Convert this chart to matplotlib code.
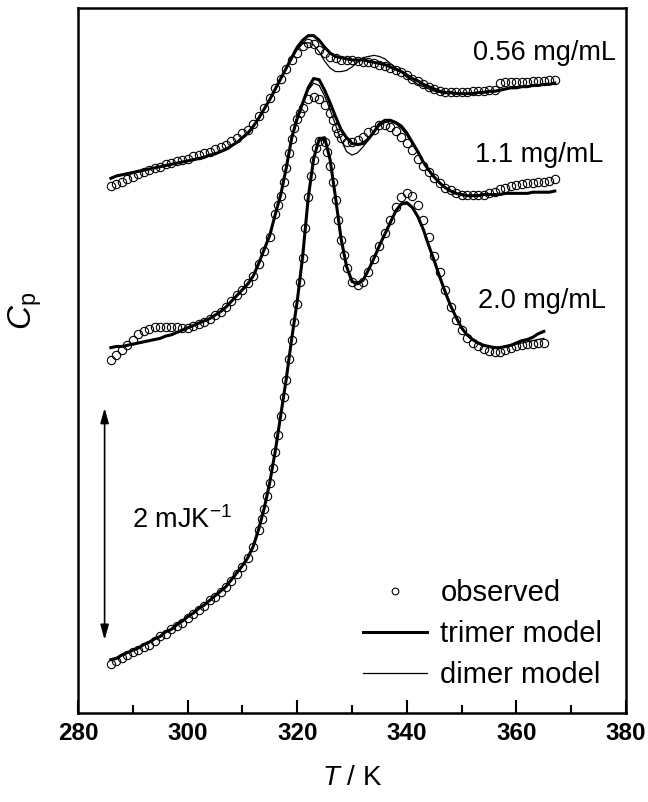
import numpy as np
import matplotlib
matplotlib.use("Agg")
import matplotlib.pyplot as plt

plt.rcParams["font.family"] = ["Liberation Sans", "DejaVu Sans"]
plt.rcParams["mathtext.fontset"] = "custom"
plt.rcParams["mathtext.rm"] = "Liberation Sans"
plt.rcParams["mathtext.it"] = "Liberation Sans:italic"

# excess heat capacity traces (mJ/K, stacked), one per protein concentration
T_056 = np.arange(286, 368)
obs_056 = [4.54, 4.56, 4.58, 4.60, 4.62, 4.65, 4.66, 4.68, 4.70, 4.71,
           4.73, 4.74, 4.76, 4.77, 4.78, 4.80, 4.81, 4.83, 4.84, 4.86,
           4.88, 4.90, 4.93, 4.96, 5.00, 5.03, 5.08, 5.15, 5.22, 5.30,
           5.39, 5.47, 5.55, 5.63, 5.69, 5.75, 5.78, 5.77, 5.72, 5.69,
           5.66, 5.65, 5.63, 5.63, 5.63, 5.62, 5.61, 5.61, 5.60, 5.59,
           5.58, 5.56, 5.54, 5.53, 5.50, 5.47, 5.45, 5.42, 5.40, 5.38,
           5.36, 5.35, 5.35, 5.35, 5.35, 5.35, 5.36, 5.36, 5.36, 5.37,
           5.37, 5.43, 5.44, 5.44, 5.44, 5.44, 5.44, 5.45, 5.45, 5.45,
           5.46, 5.46]
tri_056 = [4.61, 4.63, 4.64, 4.65, 4.66, 4.67, 4.68, 4.69, 4.70, 4.71,
           4.72, 4.73, 4.74, 4.75, 4.76, 4.77, 4.78, 4.79, 4.81, 4.82,
           4.84, 4.86, 4.89, 4.92, 4.96, 5.00, 5.06, 5.13, 5.21, 5.29,
           5.38, 5.47, 5.56, 5.65, 5.74, 5.80, 5.84, 5.84, 5.80, 5.74,
           5.69, 5.66, 5.65, 5.64, 5.63, 5.63, 5.63, 5.62, 5.61, 5.60,
           5.59, 5.57, 5.55, 5.53, 5.50, 5.47, 5.45, 5.42, 5.40, 5.38,
           5.36, 5.35, 5.35, 5.34, 5.34, 5.34, 5.34, 5.35, 5.35, 5.36,
           5.36, 5.37, 5.38, 5.39, 5.39, 5.40, 5.40, 5.41, 5.41, 5.42,
           5.42, 5.43]
dim_056 = [4.61, 4.63, 4.64, 4.65, 4.66, 4.67, 4.68, 4.69, 4.70, 4.71,
           4.72, 4.73, 4.74, 4.75, 4.76, 4.77, 4.78, 4.79, 4.81, 4.82,
           4.84, 4.86, 4.89, 4.92, 4.96, 5.00, 5.06, 5.13, 5.21, 5.29,
           5.38, 5.47, 5.56, 5.64, 5.72, 5.77, 5.78, 5.76, 5.70, 5.62,
           5.56, 5.53, 5.53, 5.54, 5.57, 5.61, 5.65, 5.66, 5.67, 5.66,
           5.64, 5.60, 5.56, 5.53, 5.48, 5.45, 5.42, 5.40, 5.38, 5.36,
           5.35, 5.34, 5.34, 5.34, 5.34, 5.34, 5.34, 5.35, 5.35, 5.36,
           5.36, 5.37, 5.38, 5.39, 5.39, 5.40, 5.40, 5.41, 5.41, 5.42,
           5.42, 5.43]

T_11 = np.arange(286, 368)
obs_11 = [3.04, 3.09, 3.13, 3.17, 3.22, 3.27, 3.29, 3.31, 3.33, 3.33,
          3.33, 3.33, 3.33, 3.32, 3.32, 3.34, 3.35, 3.37, 3.40, 3.43,
          3.46, 3.50, 3.55, 3.60, 3.65, 3.71, 3.77, 3.87, 3.98, 4.10,
          4.30, 4.46, 4.70, 4.95, 5.12, 5.22, 5.29, 5.31, 5.29, 5.24,
          5.17, 5.04, 4.96, 4.92, 4.92, 4.94, 4.97, 5.01, 5.03, 5.07,
          5.07, 5.05, 5.02, 4.97, 4.91, 4.85, 4.78, 4.72, 4.66, 4.61,
          4.57, 4.53, 4.51, 4.48, 4.47, 4.47, 4.47, 4.47, 4.47, 4.48,
          4.49, 4.52, 4.53, 4.54, 4.55, 4.56, 4.57, 4.57, 4.58, 4.58,
          4.59, 4.60]
tri_11 = [3.15, 3.16, 3.16, 3.17, 3.18, 3.19, 3.20, 3.21, 3.22, 3.23,
          3.25, 3.26, 3.28, 3.30, 3.32, 3.34, 3.36, 3.38, 3.40, 3.43,
          3.46, 3.50, 3.55, 3.60, 3.65, 3.70, 3.77, 3.88, 4.00, 4.12,
          4.30, 4.47, 4.70, 4.96, 5.13, 5.26, 5.39, 5.47, 5.46, 5.37,
          5.26, 5.14, 5.03, 4.96, 4.91, 4.90, 4.91, 4.95, 5.01, 5.08,
          5.11, 5.11, 5.09, 5.06, 5.00, 4.92, 4.84, 4.75, 4.68, 4.62,
          4.57, 4.53, 4.50, 4.48, 4.47, 4.46, 4.46, 4.46, 4.47, 4.47,
          4.47, 4.47, 4.48, 4.48, 4.48, 4.48, 4.48, 4.49, 4.49, 4.49,
          4.49, 4.50]
dim_11 = [3.15, 3.16, 3.16, 3.17, 3.18, 3.19, 3.20, 3.21, 3.22, 3.23,
          3.25, 3.26, 3.28, 3.30, 3.32, 3.34, 3.36, 3.38, 3.40, 3.43,
          3.46, 3.50, 3.55, 3.60, 3.65, 3.70, 3.77, 3.88, 4.00, 4.12,
          4.30, 4.47, 4.70, 4.94, 5.11, 5.24, 5.37, 5.43, 5.41, 5.32,
          5.20, 5.07, 4.94, 4.84, 4.81, 4.83, 4.88, 4.94, 5.01, 5.06,
          5.09, 5.10, 5.08, 5.04, 4.98, 4.91, 4.83, 4.75, 4.68, 4.62,
          4.57, 4.53, 4.50, 4.48, 4.47, 4.46, 4.46, 4.46, 4.47, 4.47,
          4.47, 4.47, 4.48, 4.48, 4.48, 4.48, 4.48, 4.49, 4.49, 4.49,
          4.49, 4.50]
# extra scans on the steep flanks
T_11_mid = [316.5, 317.5, 318.5, 319.5, 320.5, 326.5, 327.5]
obs_11_mid = [4.38, 4.58, 4.83, 5.04, 5.17, 5.11, 5.00]

T_20 = np.arange(286, 366)
obs_20 = [0.42, 0.45, 0.47, 0.50, 0.53, 0.54, 0.57, 0.59, 0.62, 0.66,
          0.68, 0.72, 0.75, 0.78, 0.82, 0.85, 0.89, 0.92, 0.97, 1.00,
          1.04, 1.09, 1.14, 1.20, 1.26, 1.34, 1.43, 1.58, 1.76, 1.98,
          2.25, 2.56, 2.87, 3.22, 3.53, 3.92, 4.45, 4.77, 4.93, 4.92,
          4.72, 4.42, 4.08, 3.84, 3.72, 3.69, 3.72, 3.80, 3.91, 4.03,
          4.14, 4.25, 4.36, 4.45, 4.48, 4.46, 4.38, 4.25, 4.10, 3.94,
          3.80, 3.65, 3.50, 3.39, 3.30, 3.23, 3.19, 3.16, 3.14, 3.12,
          3.11, 3.11, 3.13, 3.15, 3.16, 3.17, 3.18, 3.18, 3.19, 3.19]
tri_20 = [0.46, 0.47, 0.50, 0.52, 0.54, 0.56, 0.59, 0.61, 0.64, 0.66,
          0.70, 0.72, 0.76, 0.79, 0.83, 0.86, 0.90, 0.93, 0.97, 1.01,
          1.05, 1.09, 1.15, 1.21, 1.27, 1.34, 1.44, 1.59, 1.77, 1.99,
          2.26, 2.57, 2.88, 3.23, 3.55, 3.94, 4.44, 4.78, 4.95, 4.96,
          4.77, 4.44, 4.09, 3.85, 3.72, 3.70, 3.73, 3.82, 3.92, 4.03,
          4.13, 4.23, 4.33, 4.39, 4.40, 4.36, 4.28, 4.17, 4.03, 3.90,
          3.76, 3.63, 3.51, 3.41, 3.32, 3.26, 3.22, 3.19, 3.17, 3.16,
          3.15, 3.15, 3.16, 3.17, 3.19, 3.21, 3.22, 3.24, 3.27, 3.29]
dim_20 = [0.46, 0.47, 0.50, 0.52, 0.54, 0.56, 0.59, 0.61, 0.64, 0.66,
          0.70, 0.72, 0.76, 0.79, 0.83, 0.86, 0.90, 0.93, 0.97, 1.01,
          1.05, 1.09, 1.15, 1.21, 1.27, 1.34, 1.44, 1.59, 1.77, 1.99,
          2.26, 2.57, 2.88, 3.23, 3.55, 3.94, 4.44, 4.78, 4.93, 4.94,
          4.77, 4.44, 4.09, 3.85, 3.72, 3.70, 3.73, 3.82, 3.92, 4.03,
          4.13, 4.23, 4.33, 4.38, 4.39, 4.35, 4.28, 4.17, 4.03, 3.90,
          3.76, 3.63, 3.51, 3.41, 3.32, 3.26, 3.22, 3.19, 3.17, 3.16,
          3.15, 3.15, 3.16, 3.17, 3.18, 3.19, 3.20, 3.21, 3.22, 3.23]
T_20_mid = [313.5, 314.5, 315.5, 316.5, 317.5, 318.5, 319.5, 320.5, 321.5,
            322.5, 323.5, 325.5, 326.5, 327.5, 328.5]
obs_20_mid = [1.67, 1.87, 2.11, 2.40, 2.72, 3.05, 3.37, 3.72, 4.18,
              4.63, 4.87, 4.84, 4.58, 4.25, 3.95]

conc_labels = ["0.56 mg/mL", "1.1 mg/mL", "2.0 mg/mL"]
label_pos = [(352.0, 5.63), (352.4, 4.75), (353.0, 3.49)]

# 2 mJ/K scale bar
bar_T = 284.85
bar_bottom = 0.63
bar_len = 2.0

fig = plt.figure(figsize=(6.48, 8.02), dpi=100)
ax = fig.add_axes([0.1204, 0.111, 0.8457, 0.879])

curves = [(T_056, obs_056, tri_056, dim_056, [], []),
          (T_11, obs_11, tri_11, dim_11, T_11_mid, obs_11_mid),
          (T_20, obs_20, tri_20, dim_20, T_20_mid, obs_20_mid)]
for T, obs, tri, dim, T_mid, obs_mid in curves:
    l_tri, = ax.plot(T, tri, color="black", lw=2.2, zorder=2)
    l_dim, = ax.plot(T, dim, color="black", lw=0.9, zorder=2)
    l_obs, = ax.plot(list(T) + list(T_mid), list(obs) + list(obs_mid), "o", ms=6,
                     mfc="none", mec="black", mew=0.8, zorder=3)

for txt, (x, y) in zip(conc_labels, label_pos):
    ax.text(x, y, txt, fontsize=19.5, ha="left", va="baseline")

ax.annotate("", xy=(bar_T, bar_bottom), xytext=(bar_T, bar_bottom + bar_len),
            arrowprops=dict(arrowstyle="<|-|>,head_length=0.9,head_width=0.25",
                            lw=1.2, color="black", shrinkA=0, shrinkB=0))
ax.text(289.9, 1.595, r"2 mJK$^{\mathregular{-1}}$", fontsize=19.5, ha="left", va="baseline")

ax.legend([l_obs, l_tri, l_dim], ["observed", "trimer model", "dimer model"],
          loc="upper left", bbox_to_anchor=(363 / 648, 1 - 579 / 802),
          bbox_transform=fig.transFigure, frameon=False, fontsize=21,
          handlelength=2.2, handletextpad=0.45, labelspacing=0.45,
          borderpad=0, borderaxespad=0, markerscale=0.8)

ax.set_xlim(280, 380)
ax.set_ylim(0, 6.078)
ax.set_xticks(range(280, 381, 20))
ax.set_xticks(range(290, 380, 20), minor=True)
ax.set_yticks([])
ax.tick_params(axis="x", which="both", direction="in", width=1.5, pad=6.5, labelsize=17.5)
ax.tick_params(axis="x", which="major", length=9.5)
ax.tick_params(axis="x", which="minor", length=5.5)
for lab in ax.get_xticklabels():
    lab.set_fontweight("bold")
for sp in ax.spines.values():
    sp.set_linewidth(1.8)

ax.set_xlabel(r"$T$ / K", fontsize=20)
ax.xaxis.set_label_coords(0.5, -0.0738)
ax.set_ylabel(r"$C_\mathrm{p}$", fontsize=24)
ax.yaxis.set_label_coords(-0.062, 0.570)

fig.savefig("out.png", dpi=100)
